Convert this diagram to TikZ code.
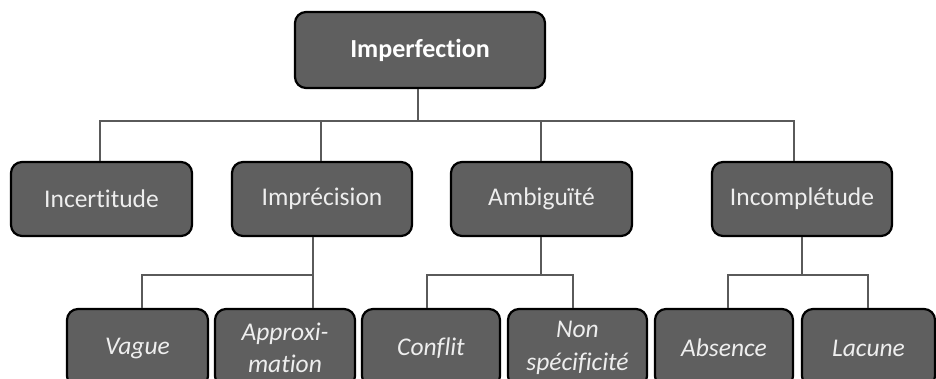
\documentclass[tikz,border=0pt]{standalone}
\usepackage{fontspec}
\setmainfont{Carlito}[Ligatures={NoCommon,NoRequired,NoContextual}]
\definecolor{boxfill}{HTML}{5F5F5F}
\definecolor{boxtext}{HTML}{EEEEEE}
\definecolor{linecol}{HTML}{5A5A5A}
\tikzset{
  box/.style={draw=black, line width=2.2pt, fill=boxfill, rounded corners=11pt,
    text=boxtext, align=center, inner sep=0pt,
    font=\fontsize{25.5}{31}\selectfont},
  topbox/.style={box, text=white, font=\fontsize{26}{31}\selectfont\bfseries},
  leafbox/.style={box, font=\fontsize{25.5}{32.5}\selectfont\itshape},
  conn/.style={draw=linecol, line width=1.4pt}
}
\begin{document}
\begin{tikzpicture}[x=1pt,y=-1pt]
\useasboundingbox (0,0) rectangle (936,378);
\clip (0,0) rectangle (936,378);
% top
\node[topbox, minimum width=250pt, minimum height=76pt] (top) at (420,50) {Imperfection};
% level 1
\node[box, minimum width=181pt, minimum height=74pt] (inc) at (101.5,199) {Incertitude};
\node[box, minimum width=180pt, minimum height=74pt] (imp) at (322,199) {Imprécision};
\node[box, minimum width=181pt, minimum height=74pt] (amb) at (541.5,199) {Ambiguïté};
\node[box, minimum width=180pt, minimum height=74pt] (icp) at (802,199) {Incomplétude};
% level 2
\node[leafbox, minimum width=141pt, minimum height=78pt] (vag) at (137.5,348) {Vague};
\node[leafbox, minimum width=140pt, minimum height=78pt] (app) at (285,348) {Approxi-\\mation};
\node[leafbox, minimum width=138pt, minimum height=78pt] (con) at (431,348) {Conflit};
\node[leafbox, minimum width=139pt, minimum height=78pt] (nsp) at (577.5,348) {Non\\spécificité};
\node[leafbox, minimum width=138pt, minimum height=78pt] (abs) at (724,348) {Absence};
\node[leafbox, minimum width=133pt, minimum height=78pt] (lac) at (868.5,348) {Lacune};
% junction coordinates
\coordinate (T) at (418,121);
\coordinate (A1) at (100,121);
\coordinate (A2) at (321,121);
\coordinate (A3) at (541,121);
\coordinate (A4) at (794,121);
\coordinate (B1) at (142,275);
\coordinate (B2) at (313,275);
\coordinate (C0) at (541,275);
\coordinate (C1) at (427,275);
\coordinate (C2) at (573,275);
\coordinate (D0) at (802,275);
\coordinate (D1) at (728,275);
\coordinate (D2) at (868,275);
% connectors level 0-1
\draw[conn] (top.south -| T) -- (T);
\draw[conn] (inc.north -| A1) -- (A1) -- (A4) -- (icp.north -| A4);
\draw[conn] (imp.north -| A2) -- (A2);
\draw[conn] (amb.north -| A3) -- (A3);
% connectors level 1-2
\draw[conn] (imp.south -| B2) -- (B2) -- (B1) -- (vag.north -| B1);
\draw[conn] (B2) -- (app.north -| B2);
\draw[conn] (amb.south -| C0) -- (C0);
\draw[conn] (con.north -| C1) -- (C1) -- (C2) -- (nsp.north -| C2);
\draw[conn] (icp.south -| D0) -- (D0);
\draw[conn] (abs.north -| D1) -- (D1) -- (D2) -- (lac.north -| D2);
\end{tikzpicture}
\end{document}
